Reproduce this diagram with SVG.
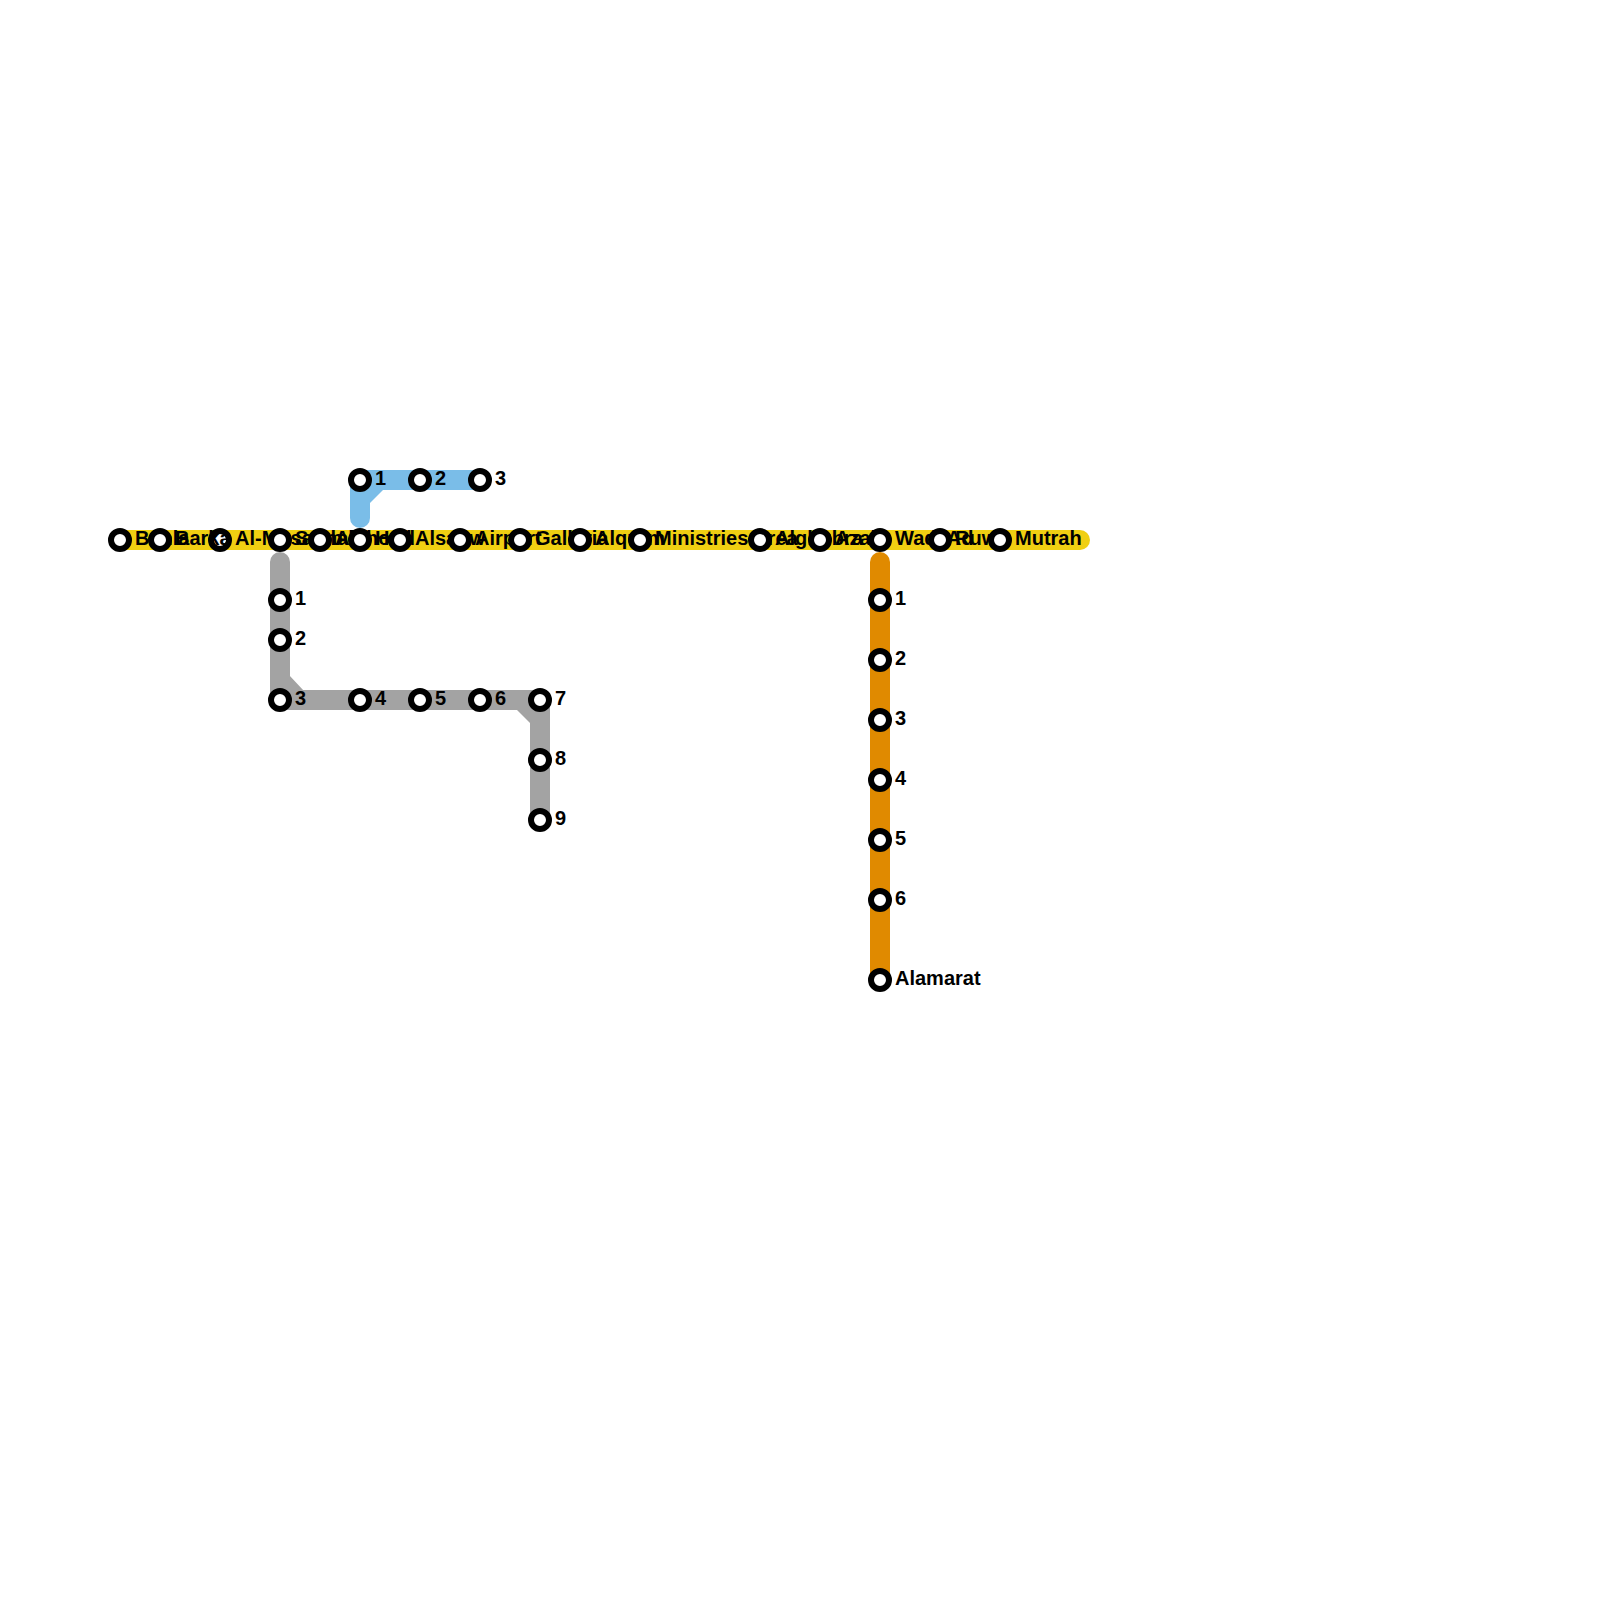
<svg xmlns="http://www.w3.org/2000/svg" width="1600" height="1600" viewBox="0 0 1600 1600">
<style>
.ln{fill:none;stroke-width:20;stroke-linecap:round;stroke-linejoin:round}
.st{fill:#fff;stroke:#000;stroke-width:6}
text{font-family:"Liberation Sans",Arial,sans-serif;font-size:20px;font-weight:700;fill:#000}
</style>
<rect width="1600" height="1600" fill="#fff"/>
<g id="connectors">
<path class="ln" stroke="#f0cf12" d="M120 540H1080"/>
<path class="ln" stroke="#7abde8" d="M360 518V480H480"/>
<polygon fill="#7abde8" points="369,489 384,489 369,504"/>
<path class="ln" stroke="#a3a3a3" d="M280 562V700H540V820"/>
<polygon fill="#a3a3a3" points="289,675 304,691 289,691"/>
<polygon fill="#a3a3a3" points="516,709 531,709 531,724"/>
<path class="ln" stroke="#e08a00" d="M880 562V980"/>
</g>
<g id="stations">
<g id="y1"><circle class="st" cx="120" cy="540" r="9"/><text x="135" y="545">Bahla</text></g>
<g id="y3"><circle class="st" cx="220" cy="540" r="9"/></g>
<g id="y2"><circle class="st" cx="160" cy="540" r="9"/><text x="175" y="545">Barka</text></g>
<g id="y4"><text x="235" y="545">Al-Musannah</text><circle class="st" cx="280" cy="540" r="9"/></g>
<g id="y5"><text x="295" y="545">Seeb</text><circle class="st" cx="320" cy="540" r="9"/></g>
<g id="y6"><text x="335" y="545">Alkhoud</text><circle class="st" cx="360" cy="540" r="9"/></g>
<g id="y7"><text x="375" y="545">Hail</text><circle class="st" cx="400" cy="540" r="9"/></g>
<g id="y8"><text x="415" y="545">Alsahw</text><circle class="st" cx="460" cy="540" r="9"/></g>
<g id="y9"><text x="475" y="545">Airport</text><circle class="st" cx="520" cy="540" r="9"/></g>
<g id="y10"><text x="535" y="545">Galleria</text><circle class="st" cx="580" cy="540" r="9"/></g>
<g id="y11"><text x="595" y="545">Alqurm</text><circle class="st" cx="640" cy="540" r="9"/></g>
<g id="y12"><text x="655" y="545">Ministries Area</text><circle class="st" cx="760" cy="540" r="9"/></g>
<g id="y13"><text x="775" y="545">Alghubra</text><circle class="st" cx="820" cy="540" r="9"/></g>
<g id="y14"><text x="835" y="545">Azaib</text><circle class="st" cx="880" cy="540" r="9"/></g>
<g id="y15"><text x="895" y="545">Wadi Ad</text><circle class="st" cx="940" cy="540" r="9"/></g>
<g id="y16"><text x="955" y="545">Ruwi</text><circle class="st" cx="1000" cy="540" r="9"/></g>
<g id="y17"><text x="1015" y="545">Mutrah</text></g>
<g id="b1"><circle class="st" cx="360" cy="480" r="9"/><text x="375" y="485">1</text></g>
<g id="b2"><circle class="st" cx="420" cy="480" r="9"/><text x="435" y="485">2</text></g>
<g id="b3"><circle class="st" cx="480" cy="480" r="9"/><text x="495" y="485">3</text></g>
<g id="g1"><circle class="st" cx="280" cy="600" r="9"/><text x="295" y="605">1</text></g>
<g id="g2"><circle class="st" cx="280" cy="640" r="9"/><text x="295" y="645">2</text></g>
<g id="g3"><circle class="st" cx="280" cy="700" r="9"/><text x="295" y="705">3</text></g>
<g id="g4"><circle class="st" cx="360" cy="700" r="9"/><text x="375" y="705">4</text></g>
<g id="g5"><circle class="st" cx="420" cy="700" r="9"/><text x="435" y="705">5</text></g>
<g id="g6"><circle class="st" cx="480" cy="700" r="9"/><text x="495" y="705">6</text></g>
<g id="g7"><circle class="st" cx="540" cy="700" r="9"/><text x="555" y="705">7</text></g>
<g id="g8"><circle class="st" cx="540" cy="760" r="9"/><text x="555" y="765">8</text></g>
<g id="g9"><circle class="st" cx="540" cy="820" r="9"/><text x="555" y="825">9</text></g>
<g id="o1"><circle class="st" cx="880" cy="600" r="9"/><text x="895" y="605">1</text></g>
<g id="o2"><circle class="st" cx="880" cy="660" r="9"/><text x="895" y="665">2</text></g>
<g id="o3"><circle class="st" cx="880" cy="720" r="9"/><text x="895" y="725">3</text></g>
<g id="o4"><circle class="st" cx="880" cy="780" r="9"/><text x="895" y="785">4</text></g>
<g id="o5"><circle class="st" cx="880" cy="840" r="9"/><text x="895" y="845">5</text></g>
<g id="o6"><circle class="st" cx="880" cy="900" r="9"/><text x="895" y="905">6</text></g>
<g id="o7"><circle class="st" cx="880" cy="980" r="9"/><text x="895" y="985">Alamarat</text></g>
</g>
</svg>
